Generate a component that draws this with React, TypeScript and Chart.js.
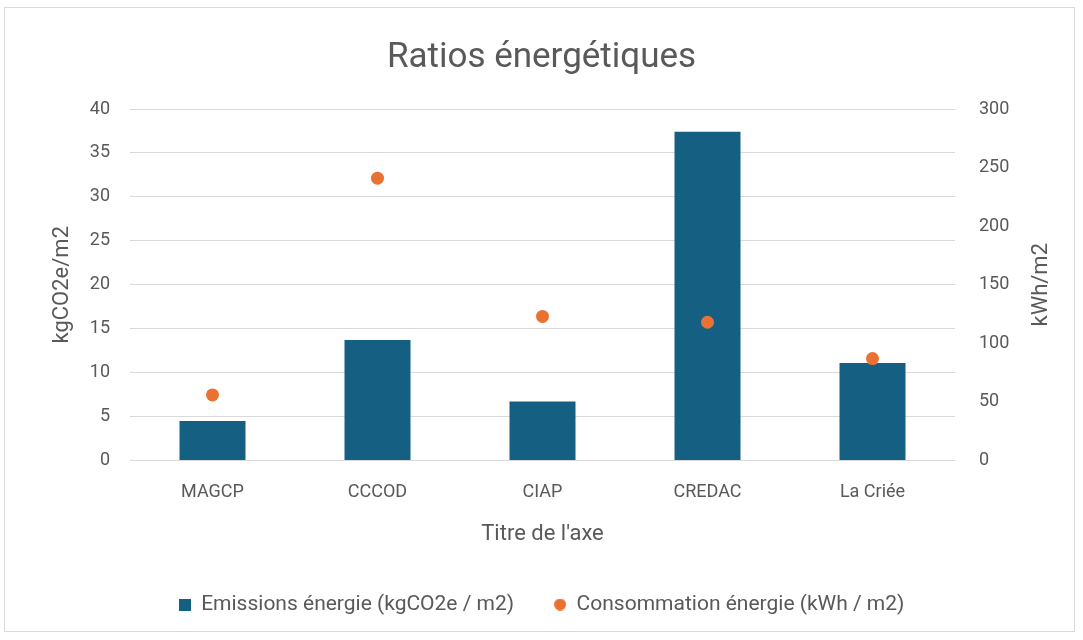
import React, { useEffect, useRef } from "react";
import { Chart, registerables } from "chart.js";

Chart.register(...registerables);

const categories = ["MAGCP", "CCCOD", "CIAP", "CREDAC", "La Criée"];
const emissions = [4.5, 13.7, 6.7, 37.4, 11.1];
const consommation = [56, 241, 123, 118, 87];
const emissionsLabel = "Emissions énergie (kgCO2e / m2)";
const consommationLabel = "Consommation énergie (kWh / m2)";
const titleText = "Ratios énergétiques";
const xTitle = "Titre de l'axe";
const yLeftTitle = "kgCO2e/m2";
const yRightTitle = "kWh/m2";

const FONT = "'Roboto', 'Liberation Sans', sans-serif";
const TEXT = "#595959";
const GRID = "#d9d9d9";
const BAR = "#156082";
const DOT = "#E97132";
const AXIS_TITLE_SIZE = 22;
const RIGHT_TITLE_PAD = 28;

function makeIcon(kind: "rect" | "circle", color: string) {
  const c = document.createElement("canvas");
  c.width = 12;
  c.height = 12;
  const ctx = c.getContext("2d")!;
  ctx.fillStyle = color;
  if (kind === "rect") ctx.fillRect(0, 0, 12, 12);
  else {
    ctx.beginPath();
    ctx.arc(6, 6, 6, 0, Math.PI * 2);
    ctx.fill();
  }
  return c;
}

const rightTitlePlugin = {
  id: "rightTitle",
  afterDraw(chart: any) {
    const s = chart.scales.y1;
    if (!s) return;
    const lh = AXIS_TITLE_SIZE * 1.2;
    const x = s.right - RIGHT_TITLE_PAD - lh / 2;
    const y = (s.top + s.bottom) / 2;
    const ctx = chart.ctx;
    ctx.save();
    ctx.translate(x, y);
    ctx.rotate(-Math.PI / 2);
    ctx.fillStyle = TEXT;
    ctx.font = `${AXIS_TITLE_SIZE}px ${FONT}`;
    ctx.textAlign = "center";
    ctx.textBaseline = "middle";
    ctx.fillText(yRightTitle, 0, 0);
    ctx.restore();
  },
};

export default function App() {
  const ref = useRef<HTMLCanvasElement | null>(null);
  useEffect(() => {
    if (!ref.current) return;
    const icons = [makeIcon("rect", BAR), makeIcon("circle", DOT)];
    const chart = new Chart(ref.current, {
      type: "bar",
      data: {
        labels: categories,
        datasets: [
          {
            type: "bar",
            label: emissionsLabel,
            data: emissions,
            backgroundColor: BAR,
            yAxisID: "y",
            order: 1,
            barPercentage: 0.4,
            categoryPercentage: 1,
          } as any,
          {
            type: "line",
            label: consommationLabel,
            data: consommation,
            yAxisID: "y1",
            showLine: false,
            pointRadius: 6.5,
            pointHoverRadius: 6.5,
            backgroundColor: DOT,
            borderColor: DOT,
            borderWidth: 0,
            pointStyle: "circle",
            order: 0,
          } as any,
        ],
      },
      plugins: [rightTitlePlugin],
      options: {
        responsive: true,
        maintainAspectRatio: false,
        animation: false,
        layout: { padding: { left: 0, right: 0, top: 0, bottom: 15 } },
        plugins: {
          tooltip: { enabled: false },
          title: {
            display: true,
            text: titleText,
            color: TEXT,
            font: { family: FONT, size: 35, weight: "normal" },
            padding: { top: 37, bottom: 30 },
          },
          legend: {
            position: "bottom",
            labels: {
              usePointStyle: true,
              boxWidth: 12,
              boxHeight: 12,
              color: TEXT,
              font: { family: FONT, size: 21 },
              padding: 40,
              sort: (a: any, b: any) => a.datasetIndex - b.datasetIndex,
              generateLabels: (ch: any) => {
                const items = Chart.defaults.plugins.legend.labels.generateLabels(ch);
                return items.map((it: any) => ({ ...it, pointStyle: icons[it.datasetIndex] }));
              },
            },
          },
        },
        scales: {
          x: {
            grid: { display: false, drawTicks: false },
            border: { display: false },
            ticks: { color: TEXT, font: { family: FONT, size: 18 }, padding: 21 },
            title: {
              display: true,
              text: xTitle,
              color: TEXT,
              font: { family: FONT, size: AXIS_TITLE_SIZE },
              padding: { top: 0, bottom: 6 },
            },
            afterFit: (s: any) => {
              s.height = 93.5;
            },
          },
          y: {
            position: "left",
            min: 0,
            max: 40,
            grid: { color: GRID, drawTicks: false, lineWidth: 1 },
            border: { display: false },
            ticks: { stepSize: 5, color: TEXT, font: { family: FONT, size: 18 }, padding: 20 },
            title: {
              display: true,
              text: yLeftTitle,
              color: TEXT,
              font: { family: FONT, size: AXIS_TITLE_SIZE },
              padding: { top: 49, bottom: 0 },
            },
            afterFit: (s: any) => {
              s.width = 130;
            },
          },
          y1: {
            position: "right",
            min: 0,
            max: 300,
            grid: { display: false, drawTicks: false },
            border: { display: false },
            ticks: { stepSize: 50, color: TEXT, font: { family: FONT, size: 18 }, padding: 24 },
            afterFit: (s: any) => {
              s.width = 128;
            },
          },
        },
      },
    });
    return () => chart.destroy();
  }, []);

  return (
    <div style={{ position: "fixed", left: 0, top: 0, width: 1083, height: 640, background: "#fff" }}>
      <div
        style={{
          position: "absolute",
          left: 4,
          top: 7,
          width: 1071,
          height: 625,
          border: "1px solid #d9d9d9",
          boxSizing: "border-box",
        }}
      />
      <div style={{ position: "absolute", left: 0, top: 0, width: 1083, height: 640 }}>
        <canvas ref={ref} />
      </div>
    </div>
  );
}
